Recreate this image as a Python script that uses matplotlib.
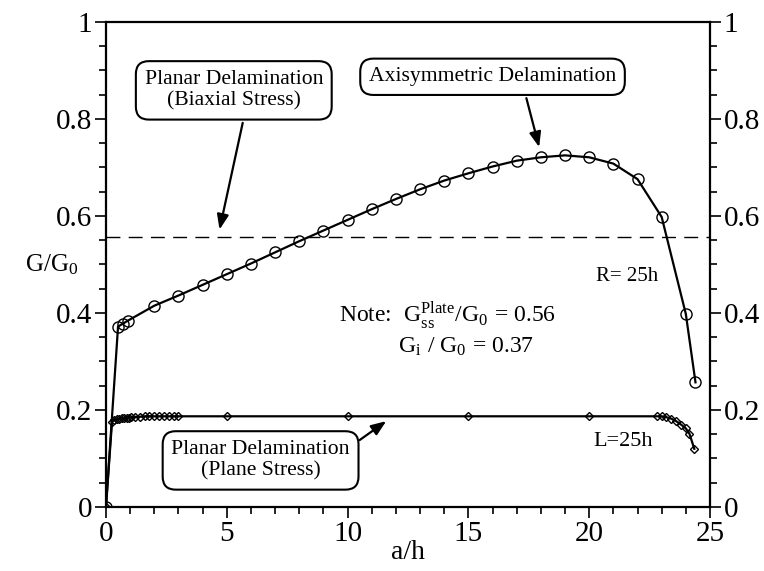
import matplotlib
matplotlib.use("Agg")
import matplotlib.pyplot as plt
from matplotlib.ticker import MultipleLocator, FixedLocator

plt.rcParams['font.family'] = ['Liberation Serif', 'DejaVu Serif']
plt.rcParams['mathtext.fontset'] = 'stix'

# Axisymmetric delamination (circles)
axi_x = [0, 0.5, 0.7, 0.9, 2, 3, 4, 5, 6, 7, 8, 9, 10, 11, 12, 13, 14, 15,
         16, 17, 18, 19, 20, 21, 22, 23, 24, 24.4]
axi_y = [0, 0.372, 0.378, 0.384, 0.415, 0.436, 0.458, 0.480, 0.502, 0.525,
         0.548, 0.570, 0.592, 0.614, 0.635, 0.655, 0.673, 0.688, 0.702, 0.714,
         0.721, 0.725, 0.721, 0.708, 0.676, 0.598, 0.398, 0.257]

# Planar delamination, plane stress (diamonds)
pl_x = [0, 0.25, 0.35, 0.45, 0.55, 0.65, 0.75, 0.85, 0.95, 1.05, 1.2, 1.4, 1.6,
        1.8, 2.0, 2.2, 2.4, 2.6, 2.8, 3.0, 5, 10, 15, 20, 22.8, 23.0, 23.2,
        23.4, 23.6, 23.8, 24.0, 24.15, 24.35]
pl_y = [0, 0.175, 0.180, 0.181, 0.182, 0.183, 0.183, 0.184, 0.184, 0.185,
        0.186, 0.186, 0.187, 0.187, 0.187, 0.187, 0.187, 0.187, 0.187, 0.187,
        0.187, 0.187, 0.187, 0.187, 0.187, 0.187, 0.185, 0.182, 0.177, 0.170,
        0.162, 0.151, 0.120]

plate_ss = 0.556

xticks = [0, 5, 10, 15, 20, 25]
yticks = [0, 0.2, 0.4, 0.6, 0.8, 1.0]
ytick_labels = ["0", "0.2", "0.4", "0.6", "0.8", "1"]

fig = plt.figure(figsize=(7.64, 5.71), dpi=100)
ax = fig.add_axes([0.1387, 0.1121, 0.7906, 0.8494])

ax.axhline(plate_ss, color='black', lw=1.0, dashes=(10, 6))
ax.plot(axi_x, axi_y, color='black', lw=1.6, marker='o', ms=8,
        mfc='none', mec='black', mew=1.0)
ax.plot(pl_x, pl_y, color='black', lw=1.6, marker='D', ms=4.5,
        mfc='none', mec='black', mew=1.0)

ax.set_xlim(0, 25)
ax.set_ylim(0, 1)
ax.xaxis.set_major_locator(FixedLocator(xticks))
ax.xaxis.set_minor_locator(MultipleLocator(1))
ax.yaxis.set_major_locator(FixedLocator(yticks))
ax.set_yticklabels(ytick_labels)
ax.yaxis.set_minor_locator(MultipleLocator(0.05))
ax.tick_params(which='both', direction='out', left=True, right=True,
               labelright=True, top=False, width=1.2, labelsize=21, pad=2)
ax.tick_params(which='major', length=8)
ax.tick_params(which='minor', length=5)
for s in ax.spines.values():
    s.set_linewidth(1.6)

ax.set_xlabel("a/h", fontsize=20, labelpad=-5)
ax.text(-0.09, 0.5, r"G/G$_\mathregular{0}$", transform=ax.transAxes,
        fontsize=18, ha='center', va='center')

box = dict(boxstyle='round,pad=0.4,rounding_size=0.6', fc='white',
           ec='black', lw=1.5)
arrow = dict(arrowstyle='-|>,head_length=0.9,head_width=0.35', color='black',
             lw=1.6, shrinkA=0, shrinkB=0)

fs_box = 15.6
ax.text(5.29, 0.859, "Planar Delamination\n(Biaxial Stress)", fontsize=fs_box,
        ha='center', va='center', bbox=box, linespacing=1.2)
ax.annotate("", xy=(4.7, 0.572), xytext=(5.66, 0.792), arrowprops=arrow)

ax.text(16.0, 0.887, "Axisymmetric Delamination", fontsize=fs_box,
        ha='center', va='center', bbox=box)
ax.annotate("", xy=(17.93, 0.742), xytext=(17.4, 0.843), arrowprops=arrow)

ax.text(6.4, 0.096, "Planar Delamination\n(Plane Stress)", fontsize=fs_box,
        ha='center', va='center', bbox=box, linespacing=1.2)
ax.annotate("", xy=(11.6, 0.177), xytext=(10.5, 0.138), arrowprops=arrow)

ax.text(21.55, 0.475, "R= 25h", fontsize=15, ha='center', va='center')
ax.text(21.4, 0.134, "L=25h", fontsize=16, ha='center', va='center')
ax.text(9.65, 0.393, r"Note:  G$_\mathregular{ss}^\mathregular{Plate}$/G$_\mathregular{0}$ = 0.56",
        fontsize=17, ha='left', va='center')
ax.text(12.1, 0.331, r"G$_\mathregular{i}$ / G$_\mathregular{0}$ = 0.37",
        fontsize=17, ha='left', va='center')

fig.savefig("out.png", dpi=100)
